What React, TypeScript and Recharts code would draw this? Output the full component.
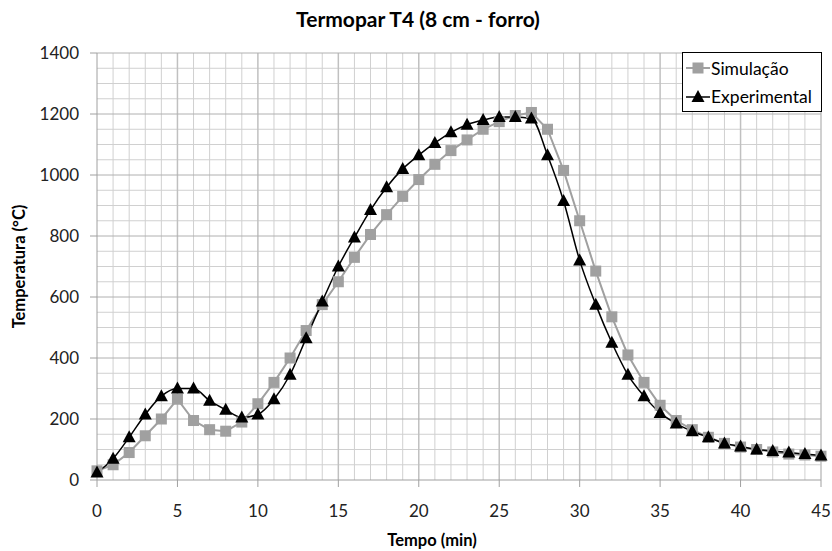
import { LineChart, Line, XAxis, YAxis, ReferenceLine } from 'recharts';

// tempo (min)
const tempo = [
  0, 1, 2, 3, 4, 5, 6, 7, 8, 9, 10, 11, 12, 13, 14, 15, 16, 17, 18, 19, 20, 21, 22,
  23, 24, 25, 26, 27, 28, 29, 30, 31, 32, 33, 34, 35, 36, 37, 38, 39, 40, 41, 42, 43, 44, 45,
];

const simulacao = [
  30, 50, 90, 145, 200, 265, 195, 165, 160, 190, 250, 320, 400, 490, 575, 650, 730, 805, 870,
  930, 985, 1035, 1080, 1115, 1150, 1175, 1195, 1205, 1150, 1015, 850, 685, 535, 410, 320, 245,
  195, 165, 140, 120, 108, 100, 92, 85, 82, 78,
];

const experimental = [
  25, 70, 140, 215, 275, 300, 300, 260, 230, 205, 215, 265, 345, 465, 585, 700, 795, 885, 960,
  1020, 1065, 1105, 1140, 1165, 1180, 1190, 1190, 1185, 1065, 915, 720, 575, 450, 345, 275, 220,
  185, 160, 140, 120, 110, 100, 95, 90, 85, 80,
];

const xTicks = [0, 5, 10, 15, 20, 25, 30, 35, 40, 45];
const yTicks = [0, 200, 400, 600, 800, 1000, 1200, 1400];
const xMinor = tempo.filter((t) => t % 5 !== 0);
const yMinor = [50, 100, 150, 250, 300, 350, 450, 500, 550, 650, 700, 750, 850, 900, 950, 1050, 1100, 1150, 1250, 1300, 1350];

const data = tempo.map((t, i) => ({ t, sim: simulacao[i], exp: experimental[i] }));

const FONT = 'Lato, "Open Sans", sans-serif';

const Square = (props: any) => {
  const { cx, cy } = props;
  if (cx == null || cy == null) return null;
  return <rect x={cx - 5.5} y={cy - 5.5} width={11} height={11} fill="#a0a0a0" />;
};

const Triangle = (props: any) => {
  const { cx, cy } = props;
  if (cx == null || cy == null) return null;
  return <polygon points={`${cx},${cy - 7} ${cx - 6.5},${cy + 5} ${cx + 6.5},${cy + 5}`} fill="#000" />;
};

const LegendBox = () => (
  <div
    style={{
      position: 'absolute',
      left: 682,
      top: 52,
      width: 140,
      height: 60,
      border: '1px solid #000',
      background: '#fff',
      boxSizing: 'border-box',
      fontFamily: FONT,
      fontSize: 17.5,
      color: '#000',
      padding: '1px 0 0 3px',
    }}
  >
    <div style={{ display: 'flex', alignItems: 'center', height: 28 }}>
      <svg width={24} height={14}>
        <line x1={0} y1={7} x2={24} y2={7} stroke="#a0a0a0" strokeWidth={2} />
        <rect x={6.5} y={1.5} width={11} height={11} fill="#a0a0a0" />
      </svg>
      <span style={{ marginLeft: 1 }}>Simulação</span>
    </div>
    <div style={{ display: 'flex', alignItems: 'center', height: 28 }}>
      <svg width={24} height={14}>
        <line x1={0} y1={8} x2={24} y2={8} stroke="#000" strokeWidth={1.5} />
        <polygon points="12,1 5.5,13 18.5,13" fill="#000" />
      </svg>
      <span style={{ marginLeft: 1 }}>Experimental</span>
    </div>
  </div>
);

export default function App() {
  return (
    <div style={{ position: 'absolute', left: 0, top: 0, width: 832, height: 551, background: '#fff' }}>
      <LineChart
        width={832}
        height={551}
        data={data}
        margin={{ top: 53, right: 11, bottom: 0, left: 0 }}
        style={{ fontFamily: FONT }}
      >
        {xMinor.map((v) => (
          <ReferenceLine key={`xm${v}`} x={v} stroke="#d0d0d0" strokeWidth={1} />
        ))}
        {yMinor.map((v) => (
          <ReferenceLine key={`ym${v}`} y={v} stroke="#d0d0d0" strokeWidth={1} />
        ))}
        {xTicks.slice(1).map((v) => (
          <ReferenceLine key={`xM${v}`} x={v} stroke="#c0c0c0" strokeWidth={1.5} />
        ))}
        {yTicks.slice(1).map((v) => (
          <ReferenceLine key={`yM${v}`} y={v} stroke="#b0b0b0" strokeWidth={1} />
        ))}
        <XAxis
          dataKey="t"
          type="number"
          domain={[0, 45]}
          ticks={xTicks}
          interval={0}
          height={71}
          tickSize={7}
          tickMargin={18}
          stroke="#a0a0a0"
          tick={{ fill: '#222', fontSize: 17 }}
          label={{ value: 'Tempo (min)', position: 'insideBottom', offset: 5, dx: -27, fill: '#000', fontSize: 16.5, fontWeight: 700 }}
        />
        <YAxis
          type="number"
          domain={[0, 1400]}
          ticks={yTicks}
          interval={0}
          width={97}
          tickSize={7}
          tickMargin={11}
          stroke="#a0a0a0"
          tick={{ fill: '#222', fontSize: 17 }}
          label={{ value: 'Temperatura (°C)', angle: -90, position: 'insideLeft', offset: 19, fill: '#000', fontSize: 16.5, fontWeight: 700, style: { textAnchor: 'middle' } }}
        />
        <Line
          dataKey="sim"
          name="Simulação"
          type="linear"
          stroke="#a0a0a0"
          strokeWidth={2}
          dot={<Square />}
          activeDot={false}
          isAnimationActive={false}
        />
        <Line
          dataKey="exp"
          name="Experimental"
          type="monotone"
          stroke="#000"
          strokeWidth={1.5}
          dot={<Triangle />}
          activeDot={false}
          isAnimationActive={false}
        />
      </LineChart>
      <div
        style={{
          position: 'absolute',
          top: 6,
          left: 0,
          width: 836,
          textAlign: 'center',
          fontFamily: FONT,
          fontWeight: 700,
          fontSize: 21,
          color: '#000',
        }}
      >
        Termopar T4 (8 cm - forro)
      </div>
      <LegendBox />
    </div>
  );
}
